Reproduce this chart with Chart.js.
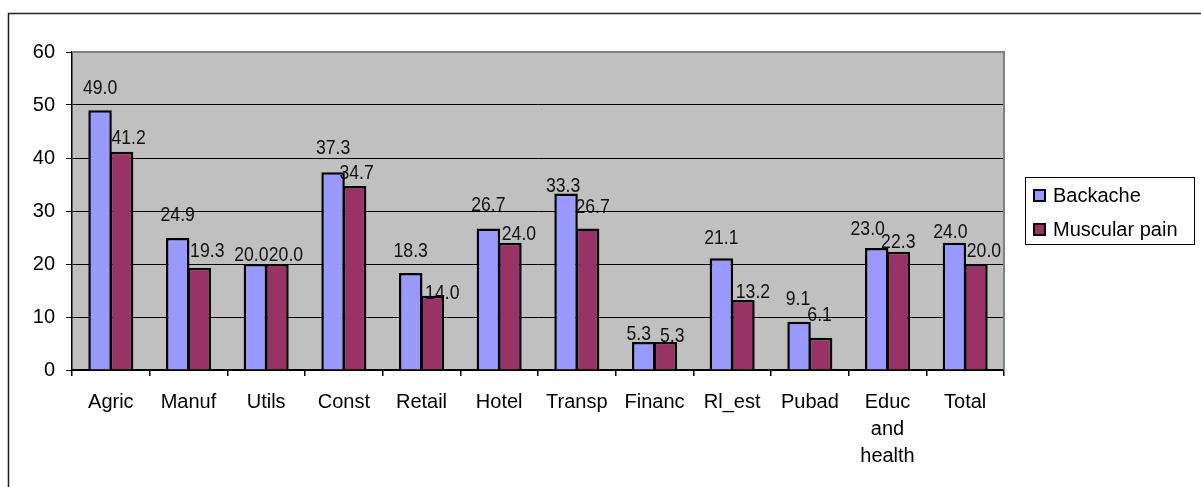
<!DOCTYPE html>
<html>
<head>
<meta charset="utf-8">
<script src="https://cdn.jsdelivr.net/npm/chart.js@4.4.1/dist/chart.umd.min.js"></script>
<style>
  html, body { margin: 0; padding: 0; background: #fff; }
  #wrap { position: relative; width: 1201px; height: 487px; }
</style>
</head>
<body>
<div id="wrap"><canvas id="c" width="1201" height="487"></canvas></div>
<script>
// Values.
const categories = ["Agric", "Manuf", "Utils", "Const", "Retail", "Hotel", "Transp",
                    "Financ", "Rl_est", "Pubad", ["Educ", "and", "health"], "Total"];
const backache     = [49.0, 24.9, 20.0, 37.3, 18.3, 26.7, 33.3, 5.3, 21.1, 9.1, 23.0, 24.0];
const muscularPain = [41.2, 19.3, 20.0, 34.7, 14.0, 24.0, 26.7, 5.3, 13.2, 6.1, 22.3, 20.0];
const yTicks = [0, 10, 20, 30, 40, 50, 60];

// Hand-placed value labels in the original: nudge [dx, dy] from the bar top centre.
const nudgeBack = [[0,-23],[0,-24],[-4,-10],[0,-25],[0,-23],[0,-24],[-3,-8],[-5,-9],[0,-21],[-1,-24],[-9,-20],[-4,-12]];
const nudgeMusc = [[7,-14],[8,-18],[9,-10],[2,-14],[10,-4],[9,-10],[5,-22],[7,-7],[10,-9],[-1,-23],[0,-11],[8,-14]];

const FONT = "'Liberation Sans', Arial, sans-serif";

const frame = {
  id: "frame",
  beforeDraw(chart) {
    const { ctx, chartArea: a } = chart;
    ctx.save();
    ctx.fillStyle = "#C0C0C0";
    ctx.fillRect(a.left, a.top, a.right - a.left, a.bottom - a.top);
    ctx.restore();
  },
  afterDraw(chart) {
    const { ctx, chartArea: a } = chart;
    ctx.save();
    // plot area: grey top and right edges
    ctx.strokeStyle = "#808080";
    ctx.lineWidth = 2;
    ctx.beginPath();
    ctx.moveTo(a.left, a.top);
    ctx.lineTo(a.right, a.top);
    ctx.lineTo(a.right, a.bottom);
    ctx.stroke();
    // outer chart frame (only top and left show in the crop)
    ctx.strokeStyle = "#222";
    ctx.lineWidth = 1.5;
    ctx.beginPath();
    ctx.moveTo(8.5, chart.height);
    ctx.lineTo(8.5, 13.5);
    ctx.lineTo(chart.width, 13.5);
    ctx.stroke();
    ctx.restore();
  }
};

// narrow-looking value labels: Liberation Sans squeezed horizontally
const valueLabels = {
  id: "valueLabels",
  afterDatasetsDraw(chart) {
    const ctx = chart.ctx;
    const nudges = [nudgeBack, nudgeMusc];
    const sx = 0.84;
    ctx.save();
    ctx.font = "21px " + FONT;
    ctx.fillStyle = "#111";
    ctx.textAlign = "center";
    ctx.textBaseline = "middle";
    chart.data.datasets.forEach((ds, di) => {
      chart.getDatasetMeta(di).data.forEach((bar, i) => {
        const n = nudges[di][i];
        ctx.save();
        ctx.translate(bar.x + n[0], bar.y + n[1] + 1);
        ctx.scale(sx, 1);
        ctx.fillText(ds.data[i].toFixed(1), 0, 0);
        ctx.restore();
      });
    });
    ctx.restore();
  }
};

const boxLegend = {
  id: "boxLegend",
  afterDraw(chart) {
    const ctx = chart.ctx;
    const x = 1025, y = 177, w = 169, h = 67;
    ctx.save();
    ctx.fillStyle = "#fff";
    ctx.fillRect(x, y, w, h);
    ctx.strokeStyle = "#000";
    ctx.lineWidth = 1;
    ctx.strokeRect(x + 0.5, y + 0.5, w, h);
    ctx.font = "20px " + FONT;
    ctx.textBaseline = "middle";
    chart.data.datasets.forEach((ds, i) => {
      const cy = 195.5 + i * 34;
      ctx.fillStyle = ds.backgroundColor;
      ctx.fillRect(1033, cy - 6.5, 13, 13);
      ctx.lineWidth = 2;
      ctx.strokeRect(1034, cy - 5.5, 11, 11);
      ctx.fillStyle = "#000";
      ctx.fillText(ds.label, 1053, cy + 1);
    });
    ctx.restore();
  }
};

new Chart(document.getElementById("c"), {
  type: "bar",
  data: {
    labels: categories,
    datasets: [
      { label: "Backache", data: backache, backgroundColor: "#9999FF",
        borderColor: "#000", borderWidth: 2.5 },
      { label: "Muscular pain", data: muscularPain, backgroundColor: "#993366",
        borderColor: "#000", borderWidth: 2.5 }
    ]
  },
  options: {
    responsive: false,
    animation: false,
    devicePixelRatio: 1,
    categoryPercentage: 0.555,
    barPercentage: 1.09,
    layout: { padding: { left: 0, top: 52, right: 197, bottom: 0 } },
    plugins: { legend: { display: false }, tooltip: { enabled: false } },
    scales: {
      x: {
        grid: { offset: true, drawOnChartArea: false, drawTicks: true, tickLength: 6,
                color: "#000", lineWidth: 1.5 },
        border: { color: "#000", width: 1.5 },
        ticks: { color: "#000", font: { family: FONT, size: 20, lineHeight: 1.35 },
                 padding: 13, maxRotation: 0, autoSkip: false },
        afterFit(s) { s.height = 117; }
      },
      y: {
        min: yTicks[0], max: yTicks[yTicks.length - 1],
        afterBuildTicks(s) { s.ticks = yTicks.map(v => ({ value: v })); },
        grid: {
          color: c => (c.tick && c.tick.value === 60) ? "rgba(0,0,0,0)" : "#000",
          tickColor: "#000", tickLength: 6, lineWidth: 1
        },
        border: { color: "#000", width: 1.5 },
        ticks: { color: "#000", font: { family: FONT, size: 20 }, padding: 11 },
        afterFit(s) { s.width = 72; }
      }
    }
  },
  plugins: [frame, valueLabels, boxLegend]
});
</script>
</body>
</html>
